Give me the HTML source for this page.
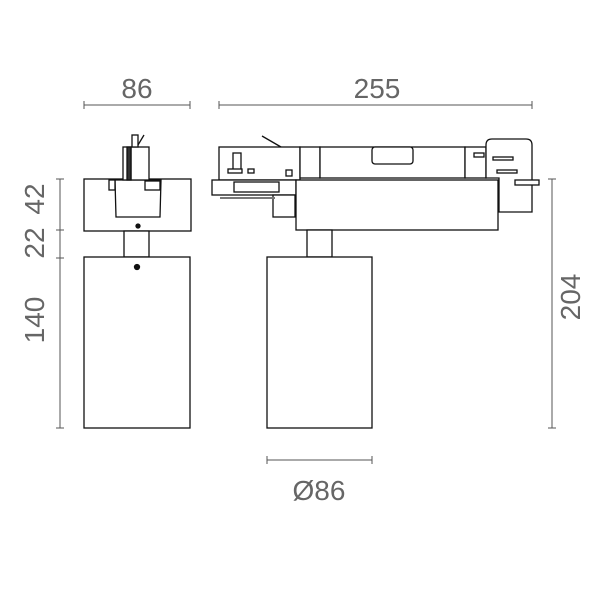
<!DOCTYPE html>
<html><head><style>
html,body{margin:0;padding:0;background:#fff;width:600px;height:600px;overflow:hidden}
svg text{font-family:"Liberation Sans",sans-serif;fill:#666;font-size:28px}
</style></head><body>
<svg width="600" height="600" viewBox="0 0 600 600" xmlns="http://www.w3.org/2000/svg">
<g stroke="#555" stroke-width="1" fill="none">
<!-- dimension lines -->
<line x1="84" y1="105" x2="190" y2="105"/><line x1="84" y1="101" x2="84" y2="109"/><line x1="190" y1="101" x2="190" y2="109"/>
<line x1="219" y1="105" x2="532" y2="105"/><line x1="219" y1="101" x2="219" y2="109"/><line x1="532" y1="101" x2="532" y2="109"/>
<line x1="60" y1="179" x2="60" y2="428"/>
<line x1="56" y1="179" x2="64" y2="179"/><line x1="56" y1="230" x2="64" y2="230"/><line x1="56" y1="258" x2="64" y2="258"/><line x1="56" y1="428" x2="64" y2="428"/>
<line x1="552" y1="179" x2="552" y2="428"/><line x1="548" y1="179" x2="556" y2="179"/><line x1="548" y1="428" x2="556" y2="428"/>
<line x1="267" y1="460" x2="372" y2="460"/><line x1="267" y1="456" x2="267" y2="464"/><line x1="372" y1="456" x2="372" y2="464"/>
</g>
<g stroke="#111" stroke-width="1.3" fill="#fff">
<!-- left view -->
<rect x="84" y="179" width="107" height="52"/>
<rect x="124" y="231" width="25" height="26"/>
<rect x="84" y="257" width="106" height="171"/>
<polygon points="115,180 161,180 160,217 116,217"/>
<rect x="123" y="147" width="26" height="33"/>
<line x1="131" y1="147" x2="131" y2="180"/>
<rect x="127" y="147" width="4" height="33" fill="#333"/>
<rect x="132" y="135" width="6" height="12"/>
<line x1="138" y1="145" x2="144" y2="135"/>
<rect x="109" y="180" width="6" height="10"/>
<rect x="145" y="181" width="15" height="9"/>
<circle cx="138" cy="226" r="2" fill="#111"/>
<circle cx="137" cy="267" r="2.5" fill="#111"/>
<!-- side view -->
<rect x="219" y="147" width="81" height="33"/>
<rect x="300" y="147" width="20" height="31"/>
<rect x="320" y="147" width="145" height="31"/>
<rect x="372" y="147" width="41" height="17" rx="3"/>
<rect x="465" y="147" width="21" height="31"/>
<path d="M486,178 L486,145 Q486,139 492,139 L526,139 Q532,139 532,145 L532,212 L499,212 L499,178 Z"/>
<rect x="515" y="180" width="24" height="5"/>
<rect x="212" y="180" width="84" height="15"/>
<rect x="234" y="182" width="45" height="10"/>
<rect x="273" y="195" width="22" height="22"/>
<rect x="220" y="197" width="55" height="2" fill="#777" stroke="none"/>
<rect x="296" y="180" width="202" height="50"/>
<rect x="307" y="230" width="25" height="27"/>
<rect x="267" y="257" width="105" height="171"/>
<line x1="262" y1="136" x2="281" y2="147"/>
<rect x="233" y="153" width="8" height="18"/>
<rect x="228" y="169" width="14" height="4"/>
<rect x="248" y="169" width="6" height="4"/>
<rect x="286" y="170" width="6" height="6"/>
<rect x="474" y="153" width="10" height="4"/>
<rect x="493" y="157" width="20" height="3"/>
<rect x="497" y="170" width="20" height="3"/>
</g>
<text x="137" y="98" text-anchor="middle">86</text>
<text x="377" y="98" text-anchor="middle">255</text>
<text x="319" y="500" text-anchor="middle">Ø86</text>
<text transform="translate(44,199) rotate(-90)" text-anchor="middle">42</text>
<text transform="translate(44,243) rotate(-90)" text-anchor="middle">22</text>
<text transform="translate(44,320) rotate(-90)" text-anchor="middle">140</text>
<text transform="translate(580,297) rotate(-90)" text-anchor="middle">204</text>
</svg>
</body></html>
